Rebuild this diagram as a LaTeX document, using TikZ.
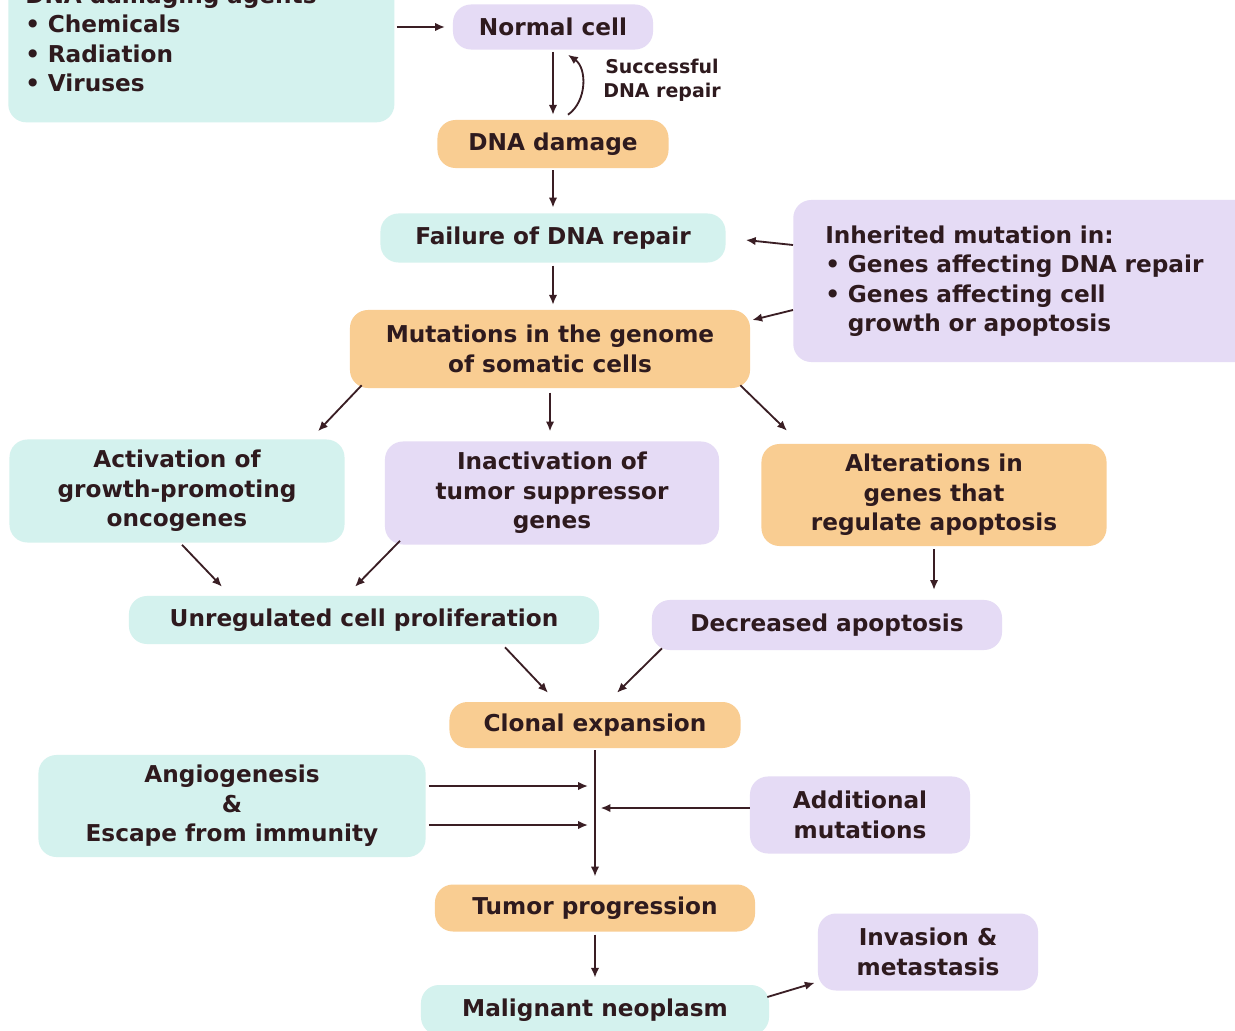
\documentclass[tikz,border=0pt]{standalone}
\usepackage{fontspec}
\setmainfont{DejaVu Sans}
\usetikzlibrary{arrows.meta, positioning, calc}
\usepackage{xcolor}
\definecolor{cInk}{HTML}{2E1A1E}
\definecolor{cLine}{HTML}{3A1E24}
\definecolor{cCyan}{HTML}{D4F2EE}
\definecolor{cLilac}{HTML}{E5DBF5}
\definecolor{cOrange}{HTML}{F9CD92}
\tikzset{
  cellbox/.style={
    fill=#1, rounded corners=0.45cm,
    text=cInk, font=\fontsize{16.5}{21}\selectfont\bfseries,
    align=center, inner sep=4pt,
  },
  cellbox/.default=cCyan,
  notetext/.style={
    text=cInk, font=\fontsize{13.5}{17}\selectfont\bfseries, align=center,
  },
  arw/.style={-{Latex[length=7pt,width=6pt]}, line width=1.3pt, color=cLine},
}

\begin{document}
\begin{tikzpicture}[x=0.025cm, y=-0.025cm]

  \fill[white] (0,0) rectangle (1235,1031);
  \useasboundingbox (0,0) rectangle (1235,1031);

  % Top of the chain
  \node[cellbox=cCyan, align=left, text width=8.8cm, inner xsep=0.425cm,
        minimum height=4.175cm, anchor=north west]
    (agents) at (8,-45) {DNA damaging agents\\• Chemicals\\• Radiation\\• Viruses};

  \node[cellbox=cLilac, minimum width=5cm, minimum height=1.125cm]
    (normal) at (553,27) {Normal cell};

  \node[cellbox=cOrange, minimum width=5.775cm, minimum height=1.2cm]
    (dnadmg) at (553,144) {DNA damage};

  \node[notetext] (repair) at (662,80) {Successful\\DNA repair};

  \node[cellbox=cCyan, minimum width=8.625cm, minimum height=1.225cm]
    (failure) at (553,238) {Failure of DNA repair};

  \node[cellbox=cOrange, minimum width=10cm, minimum height=1.95cm]
    (mut) at (550,349) {Mutations in the genome\\of somatic cells};

  \node[cellbox=cLilac, align=left, text width=9.9cm, inner xsep=0.8cm,
        minimum height=4.05cm, anchor=west]
    (inherit) at (793,281) {Inherited mutation in:\\• Genes affecting DNA repair\\• Genes affecting cell\\\phantom{• }growth or apoptosis};

  % Three consequences
  \node[cellbox=cCyan, minimum width=8.375cm, minimum height=2.575cm]
    (activ) at (177,491) {Activation of\\growth-promoting\\oncogenes};

  \node[cellbox=cLilac, minimum width=8.35cm, minimum height=2.575cm]
    (inact) at (552,493) {Inactivation of\\tumor suppressor\\genes};

  \node[cellbox=cOrange, minimum width=8.625cm, minimum height=2.55cm]
    (alter) at (934,495) {Alterations in\\genes that\\regulate apoptosis};

  \node[cellbox=cCyan, minimum width=11.75cm, minimum height=1.2cm]
    (unreg) at (364,620) {Unregulated cell proliferation};

  \node[cellbox=cLilac, minimum width=8.75cm, minimum height=1.25cm]
    (decr) at (827,625) {Decreased apoptosis};

  % Lower chain
  \node[cellbox=cOrange, minimum width=7.275cm, minimum height=1.15cm]
    (clonal) at (595,725) {Clonal expansion};

  \node[cellbox=cCyan, minimum width=9.675cm, minimum height=2.55cm]
    (angio) at (232,806) {Angiogenesis\\\&\\Escape from immunity};

  \node[cellbox=cLilac, minimum width=5.5cm, minimum height=1.925cm]
    (addl) at (860,815) {Additional\\mutations};

  \node[cellbox=cOrange, minimum width=8cm, minimum height=1.175cm]
    (tumor) at (595,908) {Tumor progression};

  \node[cellbox=cCyan, minimum width=8.7cm, minimum height=1.25cm]
    (malig) at (595,1010) {Malignant neoplasm};

  \node[cellbox=cLilac, minimum width=5.5cm, minimum height=1.925cm]
    (invas) at (928,952) {Invasion \&\\metastasis};

  % Arrows, top part
  \draw[arw, shorten <=1.5pt, shorten >=5.5pt] (agents.east |- normal.west) -- (normal.west);
  \draw[arw, shorten <=1.5pt, shorten >=3.5pt] (normal.south) -- (dnadmg.north);
  \draw[arw] ($(dnadmg.north)+(15,-5)$) to[bend right=55] ($(normal.south)+(15,5)$);
  \draw[arw, shorten <=1.5pt, shorten >=4pt] (dnadmg.south) -- (dnadmg.south |- failure.north);
  \draw[arw, shorten <=2pt, shorten >=3.5pt] (failure.south) -- (failure.south |- mut.north);
  \draw[arw] ($(inherit.west)+(0,-36)$) -- ($(failure.east)+(20,2)$);
  \draw[arw] ($(inherit.west)+(0,29)$) -- ($(mut.east)+(2,-29)$);

  % Arrows, middle part
  \draw[arw] ($(mut.south west)+(12,-3)$) -- ($(activ.north)+(141,-8)$);
  \draw[arw, shorten <=3pt, shorten >=7pt] (mut.south) -- (mut.south |- inact.north);
  \draw[arw] ($(mut.south east)+(-10,-3)$) -- ($(alter.north)+(-147,-13)$);
  \draw[arw] ($(activ.south)+(5,2)$) -- ($(unreg.north)+(-142,-9)$);
  \draw[arw] ($(inact.south)+(-152,-4)$) -- ($(unreg.north)+(-9,-9)$);
  \draw[arw, shorten <=2pt, shorten >=7pt] (alter.south) -- (alter.south |- decr.north);
  \draw[arw] ($(unreg.south)+(141,3)$) -- ($(clonal.north)+(-47,-9)$);
  \draw[arw] ($(decr.south)+(-165,-2)$) -- ($(clonal.north)+(22,-9)$);

  % Arrows, lower part
  \coordinate (angioA) at ($(angio.east)+(3,-20)$);
  \coordinate (angioB) at ($(angio.east)+(3,19)$);
  \coordinate (addlA) at ($(addl.west)+(0,-7)$);
  \draw[arw, shorten <=1.5pt, shorten >=5.5pt] (clonal.south) -- (clonal.south |- tumor.north);
  \draw[arw, shorten >=5pt] (angioA) -- (angioA -| clonal.south);
  \draw[arw, shorten >=5pt] (angioB) -- (angioB -| clonal.south);
  \draw[arw, shorten >=4pt] (addlA) -- (addlA -| clonal.south);
  \draw[arw, shorten <=2pt, shorten >=5pt] (tumor.south) -- (tumor.south |- malig.north);
  \draw[arw] ($(malig.east)+(-2,-13)$) -- ($(invas.south west)+(-3,-8)$);

\end{tikzpicture}
\end{document}
